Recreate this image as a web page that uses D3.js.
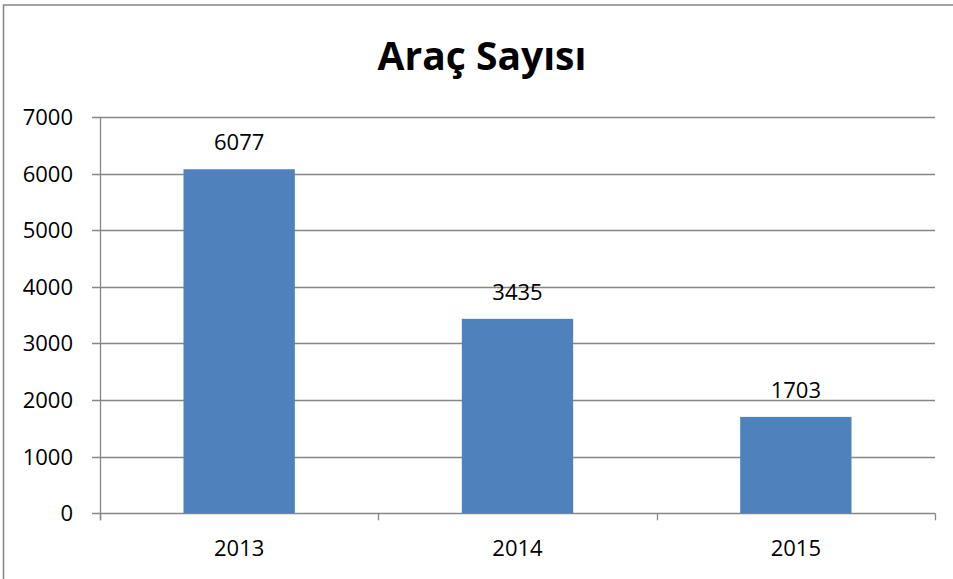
<!DOCTYPE html>
<html>
<head>
<meta charset="utf-8">
<script src="https://cdn.jsdelivr.net/npm/d3@7"></script>
<style>
  body { margin: 0; background: #fff; }
  svg { display: block; font-family: "Open Sans", sans-serif; }
</style>
</head>
<body>
<svg id="chart"></svg>
<script>
var title = "Araç Sayısı";
var years = ["2013", "2014", "2015"];
var counts = [6077, 3435, 1703];
var yTicks = [0, 1000, 2000, 3000, 4000, 5000, 6000, 7000];

var width = 953, height = 579;
var padding = { top: 117, right: 18, bottom: 65, left: 100 };

var svg = d3.select("#chart")
  .attr("width", width)
  .attr("height", height);

// outer frame, runs off the right and bottom edges like the reference
svg.append("rect")
  .attr("x", 3.5)
  .attr("y", 5)
  .attr("width", width + 20)
  .attr("height", height + 20)
  .attr("fill", "none")
  .attr("stroke", "#868686")
  .attr("stroke-width", 1.5);

svg.append("text")
  .attr("x", 482)
  .attr("y", 70)
  .attr("text-anchor", "middle")
  .attr("font-size", 39)
  .attr("font-weight", "bold")
  .text(title);

var xScale = d3.scaleBand()
  .domain(years)
  .range([padding.left, width - padding.right])
  .paddingInner(0.6)
  .paddingOuter(0.3);

var xAxisScale = d3.scaleBand()
  .domain(years)
  .range([padding.left, width - padding.right]);

var yScale = d3.scaleLinear()
  .domain([0, 7000])
  .range([height - padding.bottom - 0.7, padding.top]);

// gridlines
svg.append("g")
  .selectAll("line")
  .data(yTicks)
  .enter()
  .append("line")
    .attr("x1", padding.left - 8)
    .attr("x2", width - padding.right)
    .attr("y1", d => Math.round(yScale(d)) + 0.5)
    .attr("y2", d => Math.round(yScale(d)) + 0.5)
    .attr("stroke", "#868686")
    .attr("stroke-width", 1.3);

// y axis line
svg.append("line")
  .attr("x1", padding.left + 0.5)
  .attr("x2", padding.left + 0.5)
  .attr("y1", padding.top)
  .attr("y2", yScale(0) + 7)
  .attr("stroke", "#868686")
  .attr("stroke-width", 1.3);

// x axis category ticks
var boundaries = years.map(d => xAxisScale(d)).concat([width - padding.right]);
svg.append("g")
  .selectAll("line")
  .data(boundaries)
  .enter()
  .append("line")
    .attr("x1", d => Math.round(d) + 0.5)
    .attr("x2", d => Math.round(d) + 0.5)
    .attr("y1", yScale(0))
    .attr("y2", yScale(0) + 7)
    .attr("stroke", "#868686")
    .attr("stroke-width", 1.3);

// y labels
svg.append("g")
  .selectAll("text")
  .data(yTicks)
  .enter()
  .append("text")
    .attr("x", 73)
    .attr("y", d => yScale(d))
    .attr("dy", "0.36em")
    .attr("text-anchor", "end")
    .attr("font-size", 22)
    .attr("fill", "#000")
    .text(d => d);

// x labels
svg.append("g")
  .selectAll("text")
  .data(years)
  .enter()
  .append("text")
    .attr("x", d => xAxisScale(d) + xAxisScale.bandwidth() / 2)
    .attr("y", 556)
    .attr("text-anchor", "middle")
    .attr("font-size", 22)
    .text(d => d);

// bars
svg.append("g")
  .selectAll("rect")
  .data(counts)
  .enter()
  .append("rect")
    .attr("x", (d, i) => xScale(years[i]))
    .attr("y", d => yScale(d))
    .attr("width", xScale.bandwidth())
    .attr("height", d => yScale(0) - yScale(d))
    .attr("fill", "#4F81BD");

// value labels
svg.append("g")
  .selectAll("text")
  .data(counts)
  .enter()
  .append("text")
    .attr("x", (d, i) => xScale(years[i]) + xScale.bandwidth() / 2)
    .attr("y", d => yScale(d) - 19)
    .attr("text-anchor", "middle")
    .attr("font-size", 22)
    .text(d => d);
</script>
</body>
</html>
